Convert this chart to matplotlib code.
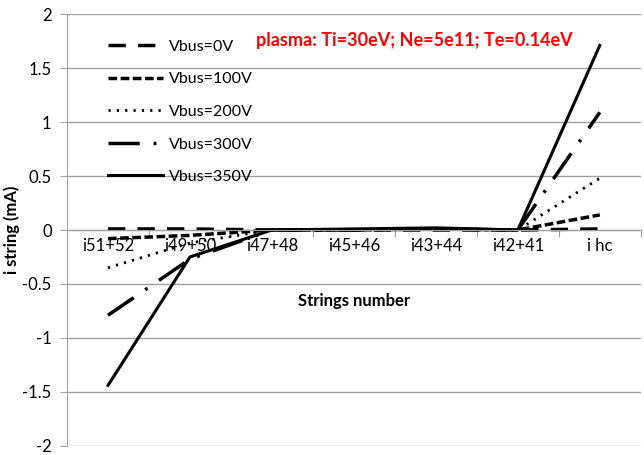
import numpy as np
import matplotlib.pyplot as plt

plt.rcParams['font.family'] = ['Lato', 'DejaVu Sans']

categories = ["i51+52", "i49+50", "i47+48", "i45+46", "i43+44", "i42+41", "i hc"]
v0 = [0.01, 0.01, 0.0, 0.0, 0.0, 0.0, 0.01]
v100 = [-0.08, -0.05, 0.0, 0.0, 0.01, 0.0, 0.14]
v200 = [-0.35, -0.12, 0.0, 0.0, 0.01, 0.0, 0.48]
v300 = [-0.79, -0.27, 0.0, 0.0, 0.01, 0.0, 1.09]
v350 = [-1.44, -0.25, 0.0, 0.01, 0.02, 0.0, 1.71]
labels = ["Vbus=0V", "Vbus=100V", "Vbus=200V", "Vbus=300V", "Vbus=350V"]

fig = plt.figure(figsize=(6.44, 4.55), dpi=100)
ax = fig.add_axes([0.104, 0.02, 0.891, 0.949])

x = np.arange(len(categories))
ax.plot(x, v0, color="k", lw=2.5, dashes=(5, 3.5), label=labels[0])
ax.plot(x, v100, color="k", lw=2.5, dashes=(2.5, 1), label=labels[1])
ax.plot(x, v200, color="k", lw=2, dashes=(0.8, 2.2), label=labels[2])
ax.plot(x, v300, color="k", lw=2.5, dashes=(9, 4, 0.8, 4), label=labels[3])
ax.plot(x, v350, color="k", lw=2.2, label=labels[4])

ax.set_xlim(-0.5, 6.5)
ax.set_ylim(-2, 2)
ax.set_yticks(np.arange(-2, 2.01, 0.5))
ax.set_yticklabels(["-2", "-1.5", "-1", "-0.5", "0", "0.5", "1", "1.5", "2"])
ax.yaxis.grid(True, color="#a0a0a0", lw=1)
ax.set_axisbelow(True)

ax.spines['top'].set_visible(False)
ax.spines['right'].set_visible(False)
ax.spines['left'].set_color("#a0a0a0")
ax.spines['bottom'].set_position(('data', 0))
ax.spines['bottom'].set_color("#a0a0a0")
ax.tick_params(axis='y', length=5, color="#a0a0a0", labelsize=12, pad=6)

ax.set_xticks(np.arange(-0.5, 7, 1))
ax.set_xticklabels([])
ax.tick_params(axis='x', which='major', direction='out', length=5, color="#a0a0a0")
ax.set_xticks(x, minor=True)
ax.set_xticklabels(categories, minor=True)
ax.tick_params(axis='x', which='minor', length=0, labelsize=12, pad=6)

ax.set_ylabel("i string (mA)", fontsize=12, fontweight="bold", labelpad=2)
ax.text(3.0, -0.66, "Strings number", ha="center", va="center",
        fontsize=12, fontweight="bold")
ax.text(3.74, 1.76, "plasma: Ti=30eV; Ne=5e11; Te=0.14eV", color="red",
        fontsize=13, fontweight="bold", ha="center", va="center")

ax.legend(loc="upper left", bbox_to_anchor=(0.047, 0.974), frameon=False,
          handlelength=3.4, labelspacing=1.15, fontsize=11.5, handletextpad=0.4)

fig.savefig("out.png", dpi=100)
